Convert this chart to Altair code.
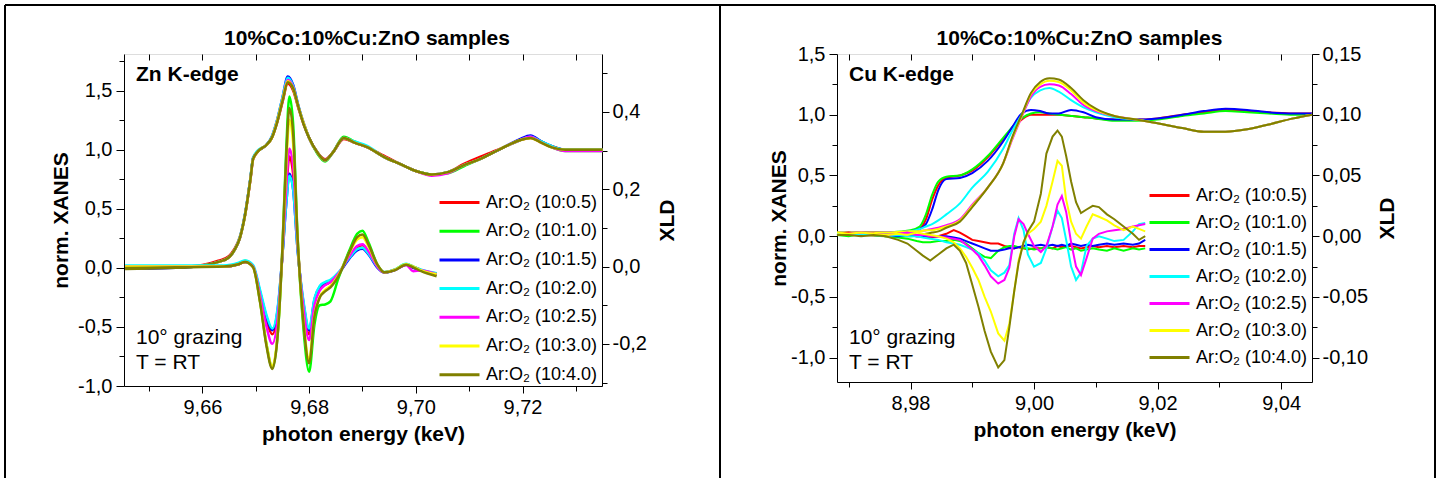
import altair as alt
import pandas as pd

FONT = "Liberation Sans"

SERIES = ["Ar:O₂ (10:0.5)", "Ar:O₂ (10:1.0)", "Ar:O₂ (10:1.5)", "Ar:O₂ (10:2.0)",
          "Ar:O₂ (10:2.5)", "Ar:O₂ (10:3.0)", "Ar:O₂ (10:4.0)"]
COLORS = ["#ff0000", "#00ff00", "#0000ff", "#00ffff", "#ff00ff", "#ffff00", "#808000"]

# ---------------- Zn K-edge : XANES ----------------
ZN_E = [9.6455, 9.650, 9.655, 9.660, 9.663, 9.665, 9.666, 9.667, 9.668, 9.669,
        9.6695, 9.6705, 9.672, 9.673, 9.674, 9.675, 9.676, 9.677, 9.678, 9.679,
        9.680, 9.6815, 9.683, 9.6845, 9.6865, 9.6885, 9.691, 9.694, 9.697, 9.700,
        9.703, 9.706, 9.709, 9.712, 9.716, 9.7195, 9.7215, 9.7235, 9.7255, 9.728,
        9.735]
ZN_XANES = [
    [0.00, 0.00, 0.005, 0.025, 0.06, 0.10, 0.16, 0.26, 0.45, 0.75,
     0.92, 0.99, 1.04, 1.10, 1.23, 1.40, 1.56, 1.50, 1.35, 1.21,
     1.10, 0.98, 0.92, 0.98, 1.09, 1.06, 1.02, 0.95, 0.88, 0.82,
     0.79, 0.81, 0.88, 0.94, 1.01, 1.08, 1.10, 1.06, 1.03, 1.00,
     1.00],
    [0.00, 0.00, 0.005, 0.02, 0.05, 0.09, 0.15, 0.25, 0.45, 0.76,
     0.93, 0.99, 1.04, 1.10, 1.24, 1.42, 1.58, 1.52, 1.36, 1.22,
     1.10, 0.97, 0.90, 0.98, 1.11, 1.07, 1.02, 0.94, 0.88, 0.82,
     0.79, 0.80, 0.86, 0.92, 1.01, 1.08, 1.11, 1.07, 1.02, 0.99,
     0.99],
    [0.00, -0.005, 0.0, 0.02, 0.05, 0.09, 0.15, 0.25, 0.46, 0.76,
     0.93, 0.99, 1.04, 1.11, 1.25, 1.44, 1.62, 1.55, 1.37, 1.22,
     1.10, 0.98, 0.91, 0.98, 1.10, 1.06, 1.02, 0.94, 0.88, 0.82,
     0.79, 0.81, 0.87, 0.92, 1.01, 1.09, 1.12, 1.07, 1.03, 1.00,
     1.00],
    [0.01, 0.01, 0.01, 0.02, 0.05, 0.09, 0.15, 0.26, 0.46, 0.76,
     0.93, 1.00, 1.04, 1.11, 1.25, 1.44, 1.61, 1.54, 1.37, 1.22,
     1.10, 0.98, 0.91, 0.98, 1.10, 1.07, 1.03, 0.94, 0.88, 0.82,
     0.79, 0.81, 0.87, 0.92, 1.01, 1.08, 1.11, 1.07, 1.03, 1.00,
     1.00],
    [0.00, 0.00, 0.005, 0.02, 0.05, 0.09, 0.15, 0.25, 0.45, 0.75,
     0.92, 0.99, 1.04, 1.10, 1.24, 1.42, 1.59, 1.53, 1.36, 1.22,
     1.10, 0.98, 0.91, 0.98, 1.10, 1.06, 1.02, 0.94, 0.88, 0.82,
     0.78, 0.80, 0.87, 0.92, 1.01, 1.08, 1.11, 1.06, 1.02, 0.99,
     0.99],
    [0.00, 0.00, 0.005, 0.02, 0.05, 0.09, 0.15, 0.25, 0.45, 0.75,
     0.92, 0.99, 1.04, 1.10, 1.24, 1.42, 1.58, 1.52, 1.36, 1.22,
     1.10, 0.98, 0.91, 0.98, 1.10, 1.06, 1.02, 0.94, 0.88, 0.82,
     0.79, 0.81, 0.87, 0.92, 1.01, 1.08, 1.10, 1.06, 1.02, 1.00,
     1.00],
    [-0.01, -0.005, 0.0, 0.02, 0.05, 0.09, 0.15, 0.25, 0.45, 0.75,
     0.92, 0.99, 1.04, 1.10, 1.23, 1.41, 1.57, 1.52, 1.36, 1.21,
     1.10, 0.98, 0.91, 0.98, 1.10, 1.06, 1.02, 0.94, 0.88, 0.82,
     0.79, 0.81, 0.87, 0.92, 1.01, 1.08, 1.10, 1.06, 1.02, 1.00,
     1.00],
]

# ---------------- Zn K-edge : XLD ----------------
ZN_XLD_E = [9.6455, 9.655, 9.664, 9.6668, 9.668, 9.6695, 9.6708, 9.672, 9.6731, 9.6742,
            9.675, 9.6757, 9.6763, 9.6770, 9.6778, 9.6790, 9.6800, 9.6810, 9.6820, 9.6830,
            9.6840, 9.6855, 9.6875, 9.6890, 9.6900, 9.6912, 9.6928, 9.6941, 9.6960, 9.6982,
            9.6995, 9.7010, 9.7039]
ZN_XLD = [
    [0, 0, 0, 0.006, 0.012, 0, -0.07, -0.14, -0.175, -0.11,
     0.03, 0.19, 0.285, 0.24, 0.06, -0.11, -0.175, -0.09, -0.058, -0.047,
     -0.040, -0.018, 0.024, 0.05, 0.055, 0.036, 0.0, -0.015, -0.009, 0.006,
     0.0, -0.009, -0.018],
    [0, 0, 0, 0.008, 0.015, 0, -0.09, -0.2, -0.262, -0.16,
     0.05, 0.3, 0.44, 0.37, 0.09, -0.17, -0.272, -0.15, -0.10, -0.098,
     -0.09, -0.03, 0.04, 0.085, 0.093, 0.06, 0.005, -0.015, -0.008, 0.006,
     0.0, -0.01, -0.02],
    [0, 0, 0, 0.006, 0.012, 0, -0.065, -0.13, -0.165, -0.1,
     0.03, 0.16, 0.24, 0.2, 0.05, -0.1, -0.165, -0.085, -0.052, -0.042,
     -0.036, -0.018, 0.02, 0.042, 0.046, 0.03, -0.003, -0.016, -0.01, 0.005,
     -0.003, -0.01, -0.02],
    [0.003, 0.003, 0.003, 0.01, 0.016, 0.004, -0.06, -0.125, -0.16, -0.095,
     0.03, 0.16, 0.235, 0.2, 0.05, -0.095, -0.16, -0.082, -0.05, -0.04,
     -0.034, -0.015, 0.022, 0.045, 0.049, 0.032, 0.0, -0.014, -0.008, 0.007,
     0.0, -0.008, -0.017],
    [0, 0, 0, 0.006, 0.012, 0, -0.075, -0.155, -0.2, -0.12,
     0.035, 0.2, 0.305, 0.26, 0.065, -0.115, -0.19, -0.1, -0.062, -0.048,
     -0.04, -0.018, 0.026, 0.053, 0.058, 0.038, 0.0, -0.015, -0.009, 0.004,
     -0.012, -0.01, -0.02],
    [0, 0, 0, 0.006, 0.012, -0.002, -0.09, -0.2, -0.258, -0.155,
     0.045, 0.26, 0.38, 0.32, 0.08, -0.15, -0.24, -0.125, -0.078, -0.06,
     -0.05, -0.022, 0.034, 0.07, 0.076, 0.05, 0.004, -0.015, -0.009, 0.006,
     0.0, -0.01, -0.02],
    [-0.004, -0.002, 0, 0.006, 0.012, -0.002, -0.092, -0.205, -0.265, -0.16,
     0.048, 0.28, 0.41, 0.345, 0.085, -0.155, -0.25, -0.13, -0.08, -0.064,
     -0.054, -0.025, 0.036, 0.076, 0.083, 0.055, 0.005, -0.015, -0.01, 0.005,
     -0.002, -0.012, -0.025],
]

# ---------------- Cu K-edge : XANES ----------------
CU_E = [8.9681, 8.972, 8.976, 8.980, 8.9815, 8.9825, 8.9835, 8.9845, 8.9858, 8.988,
        8.990, 8.9925, 8.995, 8.9965, 8.998, 8.9995, 9.001, 9.0025, 9.004, 9.006,
        9.008, 9.010, 9.013, 9.0165, 9.020, 9.024, 9.0275, 9.031, 9.0345, 9.038,
        9.042, 9.045]
CU_XANES = [
    [0.02, 0.03, 0.03, 0.04, 0.06, 0.14, 0.30, 0.42, 0.48, 0.50,
     0.54, 0.65, 0.80, 0.89, 0.96, 1.00, 1.00, 1.00, 1.00, 0.99,
     0.98, 0.97, 0.96, 0.96, 0.97, 1.00, 1.02, 1.04, 1.03, 1.02,
     1.01, 1.01],
    [0.02, 0.02, 0.03, 0.05, 0.08, 0.18, 0.34, 0.45, 0.49, 0.50,
     0.55, 0.66, 0.81, 0.90, 0.97, 1.01, 1.02, 1.01, 1.00, 0.99,
     0.98, 0.97, 0.95, 0.95, 0.96, 0.99, 1.01, 1.03, 1.02, 1.01,
     1.00, 1.00],
    [0.03, 0.03, 0.03, 0.04, 0.06, 0.10, 0.22, 0.38, 0.47, 0.48,
     0.52, 0.62, 0.78, 0.90, 1.01, 1.04, 1.03, 1.01, 1.01, 1.04,
     1.02, 0.98, 0.96, 0.96, 0.97, 1.00, 1.03, 1.05, 1.04, 1.02,
     1.01, 1.01],
    [0.02, 0.02, 0.03, 0.04, 0.06, 0.08, 0.10, 0.13, 0.18, 0.27,
     0.40, 0.53, 0.72, 0.87, 1.00, 1.14, 1.20, 1.22, 1.19, 1.12,
     1.06, 1.02, 0.98, 0.96, 0.93, 0.89, 0.86, 0.86, 0.88, 0.92,
     0.97, 1.00],
    [0.02, 0.02, 0.03, 0.03, 0.04, 0.05, 0.06, 0.07, 0.09, 0.14,
     0.26, 0.40, 0.60, 0.80, 0.98, 1.15, 1.23, 1.25, 1.24, 1.17,
     1.08, 1.03, 0.99, 0.96, 0.93, 0.89, 0.86, 0.86, 0.88, 0.92,
     0.97, 1.00],
    [0.03, 0.03, 0.03, 0.04, 0.04, 0.05, 0.05, 0.06, 0.08, 0.13,
     0.25, 0.40, 0.60, 0.81, 0.99, 1.17, 1.25, 1.28, 1.27, 1.20,
     1.10, 1.04, 0.99, 0.96, 0.93, 0.89, 0.86, 0.86, 0.88, 0.92,
     0.97, 1.00],
    [0.01, 0.01, 0.0, 0.0, 0.01, 0.02, 0.03, 0.04, 0.07, 0.12,
     0.24, 0.40, 0.60, 0.82, 1.00, 1.18, 1.27, 1.30, 1.29, 1.22,
     1.12, 1.05, 0.99, 0.96, 0.93, 0.89, 0.86, 0.86, 0.88, 0.92,
     0.97, 1.00],
]

# ---------------- Cu K-edge : XLD ----------------
CU_XLD_E = [8.9681, 8.970, 8.972, 8.974, 8.976, 8.978, 8.9795, 8.981, 8.982, 8.9832,
            8.9845, 8.9858, 8.987, 8.988, 8.989, 8.990, 8.991, 8.992, 8.993, 8.9942,
            8.9952, 8.996, 8.9968, 8.9975, 8.9983, 8.999, 9.000, 9.0011, 9.002, 9.003,
            9.0038, 9.0045, 9.0052, 9.006, 9.0068, 9.0076, 9.0085, 9.0095, 9.0105, 9.0118,
            9.013, 9.0145, 9.016, 9.017, 9.018]
CU_XLD = [
    [0.002, 0.003, 0.001, 0.002, 0.000, 0.002, 0.001, 0.000, 0.000, -0.001,
     0.000, 0.002, 0.005, 0.003, 0.000, -0.003, -0.004, -0.005, -0.006, -0.006,
     -0.008, -0.009, -0.010, -0.009, -0.010, -0.011, -0.010, -0.010, -0.009, -0.010,
     -0.008, -0.009, -0.008, -0.008, -0.009, -0.010, -0.009, -0.008, -0.009, -0.008,
     -0.009, -0.008, -0.009, -0.008, -0.008],
    [0.001, 0.000, 0.002, 0.001, 0.000, -0.001, -0.002, -0.004, -0.005, -0.005,
     -0.004, -0.004, -0.003, -0.004, -0.006, -0.010, -0.014, -0.017, -0.018, -0.012,
     -0.009, -0.008, -0.008, -0.009, -0.010, -0.010, -0.011, -0.010, -0.009, -0.010,
     -0.011, -0.010, -0.009, -0.011, -0.010, -0.012, -0.011, -0.010, -0.011, -0.012,
     -0.010, -0.012, -0.010, -0.011, -0.010],
    [0.002, 0.001, 0.002, 0.001, 0.001, 0.000, 0.001, 0.000, 0.000, 0.000,
     0.000, 0.000, -0.001, -0.002, -0.004, -0.006, -0.008, -0.010, -0.012, -0.012,
     -0.011, -0.010, -0.010, -0.009, -0.008, -0.007, -0.008, -0.007, -0.008, -0.007,
     -0.008, -0.007, -0.008, -0.006, -0.007, -0.008, -0.007, -0.008, -0.007, -0.006,
     -0.007, -0.006, -0.007, -0.006, -0.003],
    [0.002, 0.001, 0.002, 0.001, 0.000, 0.001, 0.000, 0.000, -0.001, -0.002,
     -0.003, -0.005, -0.006, -0.007, -0.009, -0.011, -0.014, -0.020, -0.028, -0.033,
     -0.030, -0.024, 0.002, 0.015, 0.005, -0.015, -0.025, -0.022, -0.010, 0.008,
     0.021, 0.015, -0.003, -0.025, -0.036, -0.030, -0.008, -0.002, 0.000, -0.002,
     -0.004, -0.003, 0.004, 0.010, 0.011],
    [0.001, 0.002, 0.003, 0.002, 0.001, 0.002, 0.003, 0.001, 0.001, 0.000,
     0.000, -0.001, -0.002, -0.003, -0.007, -0.011, -0.016, -0.024, -0.033, -0.039,
     -0.036, -0.026, 0.000, 0.014, 0.010, 0.002, -0.008, -0.013, -0.008, 0.008,
     0.026, 0.033, 0.020, -0.005, -0.025, -0.032, -0.018, -0.002, 0.002, 0.004,
     0.005, 0.006, 0.008, 0.009, 0.010],
    [0.003, 0.002, 0.003, 0.002, 0.001, 0.002, 0.001, 0.003, 0.002, 0.001,
     0.000, -0.002, -0.005, -0.010, -0.017, -0.026, -0.036, -0.050, -0.062, -0.080,
     -0.086, -0.072, -0.045, -0.020, -0.005, 0.002, 0.006, 0.012, 0.025, 0.045,
     0.062, 0.058, 0.030, 0.012, 0.002, -0.002, 0.008, 0.018, 0.016, 0.013,
     0.009, 0.005, 0.008, 0.006, 0.004],
    [0.001, 0.001, 0.000, 0.001, 0.000, -0.003, -0.006, -0.012, -0.016, -0.020,
     -0.015, -0.010, -0.007, -0.012, -0.022, -0.040, -0.058, -0.078, -0.095, -0.108,
     -0.102, -0.075, -0.045, -0.022, -0.005, 0.004, 0.012, 0.035, 0.068, 0.082,
     0.087, 0.082, 0.066, 0.045, 0.028, 0.019, 0.022, 0.025, 0.024, 0.018,
     0.014, 0.008, 0.002, -0.003, 0.000],
]

# tick values
ZN_X_TICKS = [9.65, 9.66, 9.67, 9.68, 9.69, 9.70, 9.71, 9.72, 9.73]
ZN_Y_TICKS = [-1.0, -0.75, -0.5, -0.25, 0.0, 0.25, 0.5, 0.75, 1.0, 1.25, 1.5, 1.75]
ZN_Y2_TICKS = [-0.3, -0.2, -0.1, 0.0, 0.1, 0.2, 0.3, 0.4, 0.5]
CU_X_TICKS = [8.97, 8.98, 8.99, 9.00, 9.01, 9.02, 9.03, 9.04]
CU_Y_TICKS = [-1.0, -0.75, -0.5, -0.25, 0.0, 0.25, 0.5, 0.75, 1.0, 1.25, 1.5]
CU_Y2_TICKS = [-0.1, -0.075, -0.05, -0.025, 0.0, 0.025, 0.05, 0.075, 0.1, 0.125, 0.15]


def long_df(energies, arrays, col):
    rows = []
    for i, (name, vals) in enumerate(zip(SERIES, arrays)):
        for e, v in zip(energies, vals):
            rows.append({"E": e, col: v, "s": name, "k": i})
    return pd.DataFrame(rows)


def is_major(m):
    return f"abs(datum.value*{m} - round(datum.value*{m})) < 0.001"


def lbl(m):
    return f"{is_major(m)} ? replace(replace(datum.label, '.', ','), '\u2212', '-') : ''"


def tsize(m, major, minor):
    return {"condition": {"test": is_major(m), "value": major}, "value": minor}


AX = dict(labelFont=FONT, labelFontSize=20, labelColor="black",
          titleFont=FONT, titleFontSize=21, titleFontWeight="bold", titleColor="black",
          domainColor="black", domainWidth=1, tickColor="black", tickWidth=1,
          grid=False, labelOverlap=False, labelFlush=False)


def color_enc(lx, ly, rowpad):
    return alt.Color("s:N", sort=SERIES,
                     scale=alt.Scale(domain=SERIES, range=COLORS),
                     legend=alt.Legend(orient="none", legendX=lx, legendY=ly, title=None,
                                       symbolType="M-3,0H1", symbolSize=400,
                                       symbolStrokeWidth=3, labelFont=FONT,
                                       labelFontSize=18, labelColor="black",
                                       labelOffset=5, rowPadding=rowpad, padding=0,
                                       labelLimit=300))


def panel(E, XA, XE, XL, xdom, ydom, y2dom, xt, yt, y2t, ym, y2m, y2fmt,
          width, height, edge_txt, leg, ypad, y2pad, sw, xld_interp,
          frame_l, frame_r, frame_l_op, title_dx):
    xs = alt.Scale(domain=xdom, nice=False, zero=False)
    col = color_enc(*leg)
    xanes = alt.Chart(long_df(E, XA, "v")).mark_line(
        strokeWidth=sw, interpolate="monotone").encode(
        x=alt.X("E:Q", scale=xs, axis=alt.Axis(
            orient="bottom", values=xt, format=".2f", labelExpr=lbl(50),
            tickSize=tsize(50, 7, 5), labelPadding=4,
            title="photon energy (keV)", titlePadding=6, **AX)),
        y=alt.Y("v:Q", scale=alt.Scale(domain=ydom, nice=False, zero=False),
                axis=alt.Axis(orient="left", values=yt, format=".1f", labelExpr=lbl(2),
                              tickSize=tsize(2, 8, 5), labelPadding=4,
                              title="norm. XANES", titlePadding=ypad, **AX)),
        color=col,
        order="k:Q",
    )
    xld = alt.Chart(long_df(XE, XL, "xld")).mark_line(
        strokeWidth=sw, interpolate=xld_interp).encode(
        x=alt.X("E:Q", scale=xs, axis=alt.Axis(
            orient="top", values=xt, labels=False, domain=False, tickSize=6,
            offset=-6, title=None, tickColor="black", grid=False)),
        y=alt.Y("xld:Q", scale=alt.Scale(domain=y2dom, nice=False, zero=False),
                axis=alt.Axis(orient="right", values=y2t, format=y2fmt, labelExpr=lbl(y2m),
                              tickSize=tsize(y2m, 7, 5), labelPadding=3,
                              title="XLD", titleAngle=270, titleBaseline="top",
                              titlePadding=y2pad, **AX)),
        color=col,
        order="k:Q",
    )
    dummy = pd.DataFrame({"d": [0]})
    rule = dict(color="black", strokeWidth=2)
    frame = [
        alt.Chart(dummy).mark_rule(**rule, opacity=frame_l_op).encode(
            x=alt.value(frame_l), y=alt.value(-49), y2=alt.value(424)),
        alt.Chart(dummy).mark_rule(**rule).encode(
            x=alt.value(frame_r), y=alt.value(-49), y2=alt.value(424)),
        alt.Chart(dummy).mark_rule(**rule).encode(
            x=alt.value(frame_l), x2=alt.value(frame_r), y=alt.value(-49)),
    ]
    texts = [
        alt.Chart(dummy).mark_text(text=edge_txt, font=FONT, fontSize=21, fontWeight="bold",
                                   align="left", baseline="middle", color="black").encode(
            x=alt.value(12), y=alt.value(21)),
        alt.Chart(dummy).mark_text(text="10° grazing", font=FONT, fontSize=21,
                                   align="left", baseline="middle", color="black").encode(
            x=alt.value(12), y=alt.value(284)),
        alt.Chart(dummy).mark_text(text="T = RT", font=FONT, fontSize=21,
                                   align="left", baseline="middle", color="black").encode(
            x=alt.value(12), y=alt.value(309)),
    ]
    return alt.layer(xanes, xld, *frame, *texts).resolve_scale(
        y="independent").resolve_axis(x="independent", y="independent").properties(
        width=width, height=height,
        title=alt.TitleParams("10%Co:10%Cu:ZnO samples", font=FONT, fontSize=21,
                              fontWeight="bold", color="black", anchor="middle",
                              frame="group", offset=-62, baseline="alphabetic",
                              dx=title_dx))


left = panel(ZN_E, ZN_XANES, ZN_XLD_E, ZN_XLD, [9.6453, 9.7349], [-1.0, 1.81],
             [-0.309, 0.55], ZN_X_TICKS, ZN_Y_TICKS, ZN_Y2_TICKS, 2, 5, ".1f",
             478, 332, "Zn K-edge", (334, 137, 7.7), 6, 10, 2.5, "monotone",
             -119, 596, 1, 4)
right = panel(CU_E, CU_XANES, CU_XLD_E, CU_XLD, [8.9681, 9.0450], [-1.2, 1.5],
              [-0.12, 0.15], CU_X_TICKS, CU_Y_TICKS, CU_Y2_TICKS, 2, 20, ".2f",
              475, 328, "Cu K-edge", (331, 130, 6.0), 1, 9, 2.0, "linear",
              -117, 598, 1, 5)

chart = alt.hconcat(left, right, spacing=-4).resolve_scale(
    x="independent", y="independent", color="independent").resolve_legend(
    color="independent").properties(
    padding={"left": 3, "top": 3, "right": 0, "bottom": 0},
    autosize=alt.AutoSizeParams(type="pad")).configure_view(
    stroke="black", strokeWidth=1).configure(font=FONT)

chart.save("out.html", embed_options={"renderer": "svg", "actions": False})
